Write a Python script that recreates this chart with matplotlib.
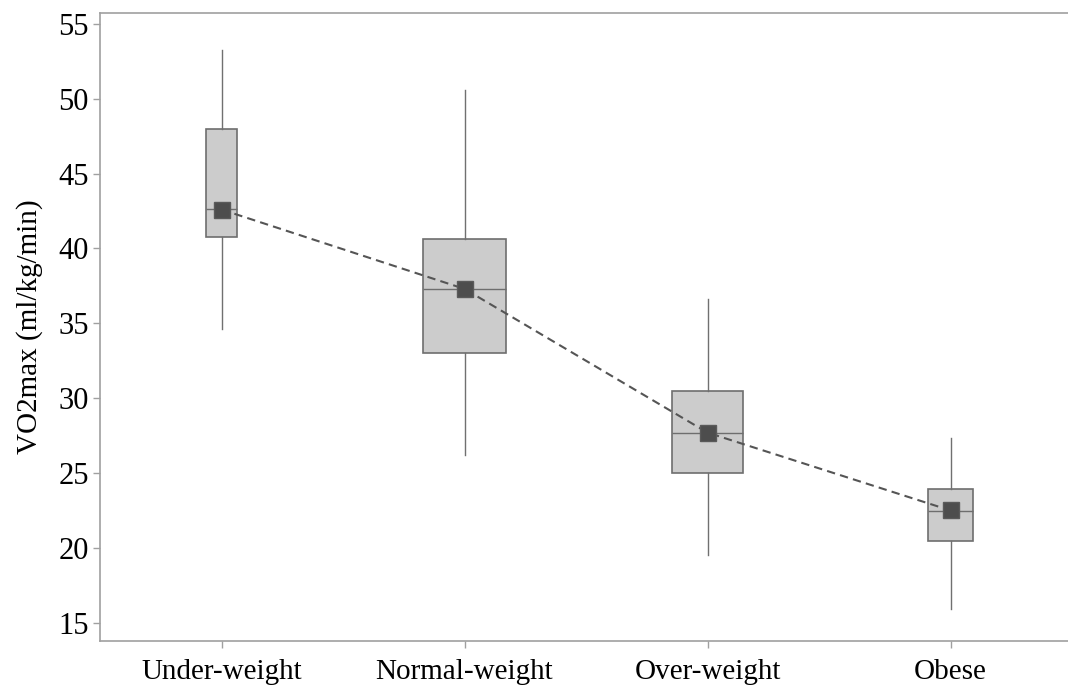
import matplotlib
matplotlib.use("Agg")
from matplotlib import pyplot as plt

# VO2max by weight group
groups = ["Under-weight", "Normal-weight", "Over-weight", "Obese"]
whisker_low = [34.6, 26.2, 19.5, 15.9]
q1 = [40.75, 33.0, 25.03, 20.44]
medians = [42.62, 37.28, 27.66, 22.47]
q3 = [47.96, 40.62, 30.46, 23.92]
whisker_high = [53.26, 50.59, 36.61, 27.32]
means = [42.6, 37.3, 27.7, 22.5]
# box widths follow group size
widths = [0.129, 0.339, 0.291, 0.189]

plt.rcParams["font.family"] = ["Liberation Serif", "DejaVu Serif"]

fig = plt.figure(figsize=(10.68, 6.89), dpi=100)
ax = fig.add_axes([100 / 1068, 48 / 689, 972 / 1068, 628 / 689])

stats = []
for i in range(len(groups)):
    stats.append({
        "whislo": whisker_low[i],
        "q1": q1[i],
        "med": medians[i],
        "q3": q3[i],
        "whishi": whisker_high[i],
        "label": groups[i],
    })

pos = list(range(len(groups)))
ax.bxp(stats, positions=pos, widths=widths, showfliers=False, showcaps=False,
       patch_artist=True,
       boxprops=dict(facecolor="#cccccc", edgecolor="#6e6e6e", linewidth=1.2),
       medianprops=dict(color="#6e6e6e", linewidth=1.0),
       whiskerprops=dict(color="#707070", linewidth=1.0))

ax.plot(pos, means, color="#555555", linewidth=1.5, linestyle=(0, (4, 2.5)),
        zorder=4)
ax.plot(pos, means, linestyle="none", marker="s", markersize=11.5,
        markerfacecolor="#4d4d4d", markeredgecolor="#5a5a5a", zorder=5)

ax.set_xlim(-0.5, 3.5)
ax.set_ylim(13.78, 55.73)
ax.set_yticks([15, 20, 25, 30, 35, 40, 45, 50, 55])
ax.set_xticks(pos)
ax.set_xticklabels(groups)

for side in ["left", "top", "bottom"]:
    ax.spines[side].set_color("#a0a0a0")
    ax.spines[side].set_linewidth(1.2)
ax.spines["right"].set_visible(False)

ax.tick_params(axis="both", colors="#a0a0a0", labelcolor="black",
               length=5, width=1)
ax.tick_params(axis="y", pad=3, labelsize=22)
ax.tick_params(axis="x", pad=8, labelsize=21)

ax.set_ylabel("VO2max (ml/kg/min)", fontsize=21)
ax.yaxis.set_label_coords(-0.0586, 0.5)

fig.savefig("out.png", dpi=100)
